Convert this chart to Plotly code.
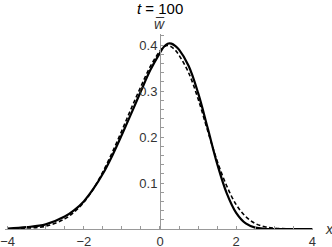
import plotly.graph_objects as go

# data
x_vals = [-4.0, -3.5, -3.0, -2.5, -2.25, -2.0, -1.75, -1.5, -1.25, -1.0, -0.75, -0.5, -0.25,
          0.0, 0.1, 0.2, 0.3, 0.4, 0.5, 0.75, 1.0, 1.25, 1.5, 1.75, 2.0, 2.25, 2.5, 2.75, 3.0, 3.5, 4.0]
solid_w = [0.001, 0.004, 0.010, 0.027, 0.041, 0.060, 0.087, 0.120, 0.160, 0.205, 0.252, 0.300, 0.346,
           0.383, 0.396, 0.403, 0.403, 0.398, 0.390, 0.355, 0.296, 0.220, 0.142, 0.078, 0.035, 0.012,
           0.003, 0.0005, 0.0, 0.0, 0.0]
dashed_w = [0.0002, 0.002, 0.006, 0.022, 0.037, 0.058, 0.087, 0.124, 0.167, 0.214, 0.263, 0.310, 0.354,
            0.387, 0.396, 0.399, 0.396, 0.389, 0.378, 0.340, 0.283, 0.214, 0.148, 0.094, 0.053, 0.027,
            0.012, 0.005, 0.002, 0.0002, 0.0]

x_tick_vals = [-4, -3.5, -3, -2.5, -2, -1.5, -1, -0.5, 0, 0.5, 1, 1.5, 2, 2.5, 3, 3.5, 4]
x_tick_text = ["−4", "", "", "", "−2", "", "", "", "0", "", "", "", "2", "", "", "", "4"]
y_tick_vals = [0.02, 0.04, 0.06, 0.08, 0.1, 0.12, 0.14, 0.16, 0.18, 0.2, 0.22, 0.24, 0.26, 0.28,
               0.3, 0.32, 0.34, 0.36, 0.38, 0.4, 0.42]
y_tick_text = ["", "", "", "", "0.1", "", "", "", "", "0.2", "", "", "", "", "0.3", "", "", "", "", "0.4", ""]

title_text = "<i>t</i> = 100"
y_label = "<i>w̅</i>"
x_label = "<i>x</i>"

x_min, x_max = -4.068, 4.016
y_min, y_max = 0.0, 0.424

FAM = "Liberation Sans, Arial, sans-serif"

fig = go.Figure()
fig.add_trace(go.Scatter(x=x_vals, y=dashed_w, mode="lines", line_shape="spline",
                         line=dict(color="black", width=1.6, dash="4px,2.5px"), cliponaxis=False))
fig.add_trace(go.Scatter(x=x_vals, y=solid_w, mode="lines", line_shape="spline",
                         line=dict(color="black", width=2.2), cliponaxis=False))

font = dict(family=FAM, size=13, color="#333333")
fig.update_layout(
    width=332, height=247,
    margin=dict(l=5, r=19, t=34, b=18, autoexpand=False),
    paper_bgcolor="white", plot_bgcolor="white",
    showlegend=False,
    font=font,
    xaxis=dict(range=[x_min, x_max], showgrid=False, zeroline=False, showline=True,
               linecolor="#999999", linewidth=1, ticks="inside", ticklen=3, tickcolor="#999999",
               tickvals=x_tick_vals, ticktext=x_tick_text, tickfont=font, automargin=False),
    yaxis=dict(range=[y_min, y_max], showgrid=False, zeroline=False, showline=True,
               linecolor="#999999", linewidth=1, ticks="inside", ticklen=3, tickcolor="#999999",
               anchor="free", position=(0 - x_min) / (x_max - x_min), automargin=False,
               tickvals=y_tick_vals, ticktext=y_tick_text, tickfont=font),
    annotations=[
        dict(text=title_text, x=0, xref="x", y=1, yref="paper", yanchor="middle", yshift=26,
             showarrow=False, font=dict(family=FAM, size=15, color="black")),
        dict(text=y_label, x=0, xref="x", y=1, yref="paper", yanchor="middle", yshift=10,
             showarrow=False, font=dict(family=FAM, size=14, color="#333333")),
        dict(text=x_label, x=1, xref="paper", xanchor="left", xshift=10, y=0, yref="y",
             yanchor="middle", showarrow=False, font=dict(family=FAM, size=14, color="#333333")),
    ],
)

fig.write_html("out.html", config={"displayModeBar": False},
               post_script="document.body.style.margin='0';")
